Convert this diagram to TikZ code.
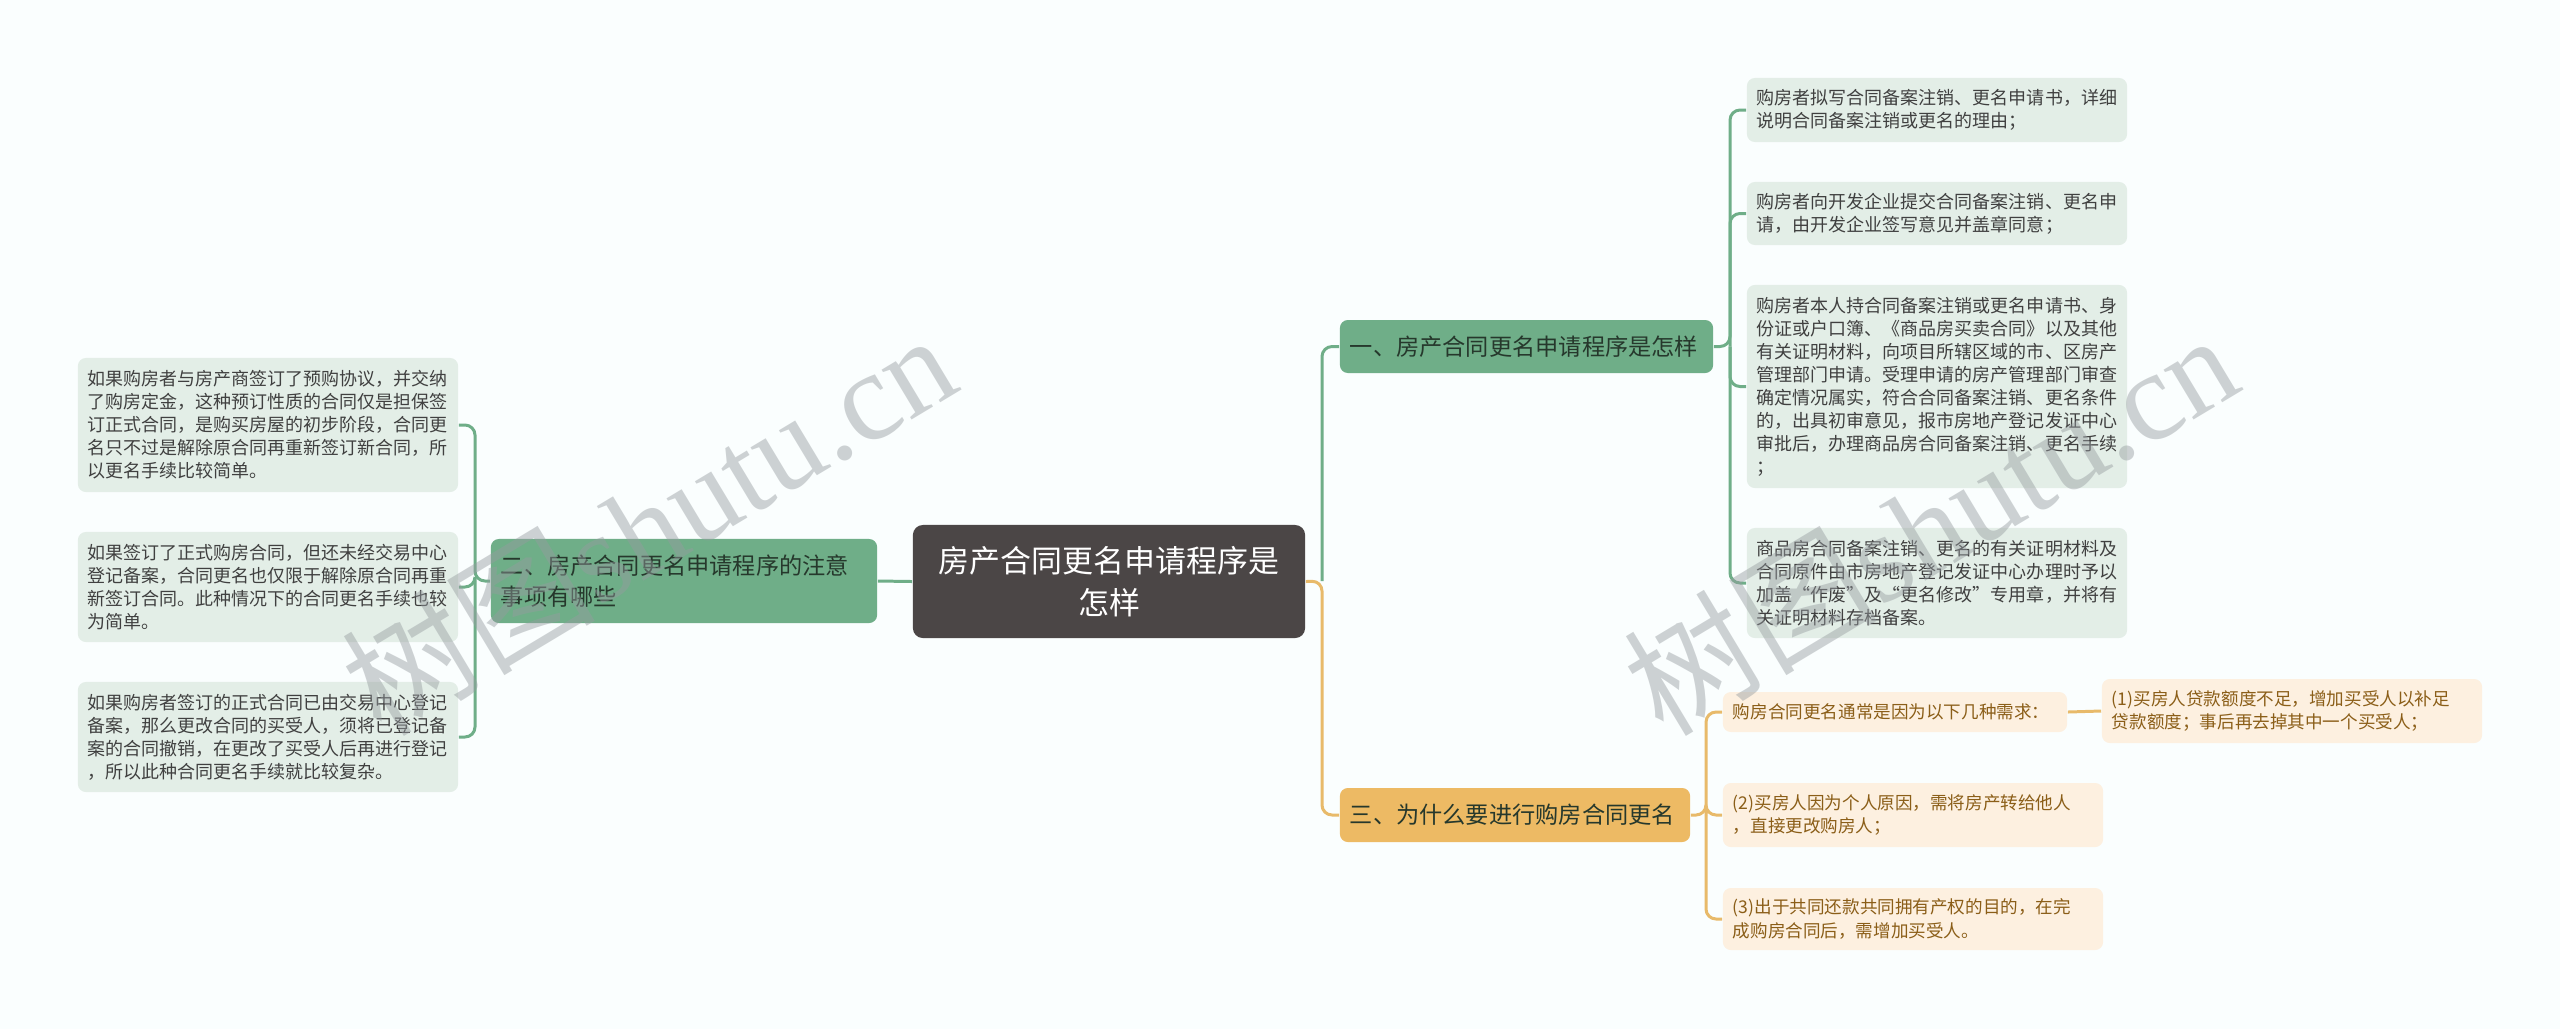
\documentclass[tikz,border=0pt]{standalone}
\usepackage{fontspec}
\setmainfont{Noto Sans CJK SC}
\newfontfamily\wmfont{Liberation Serif}
\usepackage{tikz}
\usetikzlibrary{calc}

\definecolor{bgcol}{RGB}{250,254,254}
\definecolor{darkbox}{RGB}{75,70,70}
\definecolor{gmid}{RGB}{111,174,136}
\definecolor{glight}{RGB}{227,238,231}
\definecolor{gtext}{RGB}{38,56,44}
\definecolor{omid}{RGB}{237,186,100}
\definecolor{olight}{RGB}{253,240,224}
\definecolor{otext}{RGB}{139,94,24}
\definecolor{oline}{RGB}{232,186,106}
\definecolor{wmgray}{RGB}{150,156,160}

\begin{document}
\begin{tikzpicture}[x=0.01cm, y=-0.01cm]

                % Box and connector looks, one unit is one pixel
                \tikzset{
                    box/.style={rounded corners=0.08cm, inner xsep=0.1cm, inner ysep=0pt, align=left},
                    centre/.style={box, fill=darkbox, text=white, align=center, text width=3.72cm,
                        minimum height=1.13cm, rounded corners=0.1cm, font=\fontsize{8.8}{11.9}\selectfont},
                    gbranch/.style={box, fill=gmid, text=gtext, font=\fontsize{6.6}{8.6}\selectfont},
                    obranch/.style={box, fill=omid, text=gtext, font=\fontsize{6.6}{8.6}\selectfont},
                    gleaf/.style={box, fill=glight, text=black!75, text width=3.6cm, font=\fontsize{5.12}{6.55}\selectfont},
                    oleaf/.style={box, fill=olight, text=otext, text width=3.6cm, font=\fontsize{5.0}{6.6}\selectfont},
                    gline/.style={draw=gmid, line width=0.85pt, rounded corners=0.1cm},
                    oline/.style={draw=oline, line width=0.85pt, rounded corners=0.1cm},
                    wmark/.style={text=wmgray, opacity=0.45, font=\fontsize{36}{40}\selectfont, rotate=31}
                }

                % Background and picture size
                \fill[bgcol] (0, 0) rectangle (2560, 1029);
                \useasboundingbox (0, 0) rectangle (2560, 1029);

                % Turning points of the connectors
                \begin{scope}
                    \coordinate (cr) at (1322, 581);
                    \coordinate (lb) at (475, 581);
                    \coordinate (gb) at (1730, 346.5);
                    \coordinate (ob) at (1706, 815);
                \end{scope}

                % Centre and the three branches
                \begin{scope}
                    \node (root) at (1109, 581.5) [centre] {房产合同更名申请程序是\\怎样};
                    \node (one) at (1526.5, 346.5) [gbranch, text width=3.53cm, minimum height=0.53cm] {一、房产合同更名申请程序是怎样};
                    \node (two) at (684, 581) [gbranch, text width=3.66cm, minimum height=0.84cm] {二、房产合同更名申请程序的注意\\事项有哪些};
                    \node (three) at (1515, 815) [obranch, text width=3.3cm, minimum height=0.54cm] {三、为什么要进行购房合同更名};
                \end{scope}

                % Leaves of the left branch
                \begin{scope}
                    \node (twoA) at (268, 425) [gleaf, minimum height=1.34cm] {如果购房者与房产商签订了预购协议，并交纳\\了购房定金，这种预订性质的合同仅是担保签\\订正式合同，是购买房屋的初步阶段，合同更\\名只不过是解除原合同再重新签订新合同，所\\以更名手续比较简单。};
                    \node (twoB) at (268, 587) [gleaf, minimum height=1.1cm] {如果签订了正式购房合同，但还未经交易中心\\登记备案，合同更名也仅限于解除原合同再重\\新签订合同。此种情况下的合同更名手续也较\\为简单。};
                    \node (twoC) at (268, 737) [gleaf, minimum height=1.1cm] {如果购房者签订的正式合同已由交易中心登记\\备案，那么更改合同的买受人，须将已登记备\\案的合同撤销，在更改了买受人后再进行登记\\，所以此种合同更名手续就比较复杂。};
                \end{scope}

                % Leaves of the first right branch
                \begin{scope}
                    \node (oneA) at (1937, 110) [gleaf, minimum height=0.64cm] {购房者拟写合同备案注销、更名申请书，详细\\说明合同备案注销或更名的理由；};
                    \node (oneB) at (1937, 213.5) [gleaf, minimum height=0.63cm] {购房者向开发企业提交合同备案注销、更名申\\请，由开发企业签写意见并盖章同意；};
                    \node (oneC) at (1937, 386.5) [gleaf, minimum height=2.03cm] {购房者本人持合同备案注销或更名申请书、身\\份证或户口簿、《商品房买卖合同》以及其他\\有关证明材料，向项目所辖区域的市、区房产\\管理部门申请。受理申请的房产管理部门审查\\确定情况属实，符合合同备案注销、更名条件\\的，出具初审意见，报市房地产登记发证中心\\审批后，办理商品房合同备案注销、更名手续\\；};
                    \node (oneD) at (1937, 583) [gleaf, minimum height=1.1cm] {商品房合同备案注销、更名的有关证明材料及\\合同原件由市房地产登记发证中心办理时予以\\加盖“作废”及“更名修改”专用章，并将有\\关证明材料存档备案。};
                \end{scope}

                % Leaves of the third branch
                \begin{scope}
                    \node (threeA) at (1895, 712) [oleaf, text width=3.24cm, minimum height=0.4cm] {购房合同更名通常是因为以下几种需求：};
                    \node (threeAa) at (2292, 711) [oleaf, minimum height=0.64cm] {(1)买房人贷款额度不足，增加买受人以补足\\贷款额度；事后再去掉其中一个买受人；};
                    \node (threeB) at (1913, 815) [oleaf, minimum height=0.64cm] {(2)买房人因为个人原因，需将房产转给他人\\，直接更改购房人；};
                    \node (threeC) at (1913, 919) [oleaf, minimum height=0.62cm] {(3)出于共同还款共同拥有产权的目的，在完\\成购房合同后，需增加买受人。};
                \end{scope}

                % Connectors
                \begin{scope}
                    \draw[gline] (root.west) -- (two.east);
                    \draw[gline] (two.west) -- (lb) |- (twoA.east);
                    \draw[gline] (lb) |- (twoB.east);
                    \draw[gline] (lb) |- (twoC.east);
                    \draw[gline] (cr) |- (one.west);
                    \draw[oline] (root.east) -- (cr) |- (three.west);
                    \draw[gline] (one.east) -- (gb) |- (oneA.west);
                    \draw[gline] (gb) |- (oneB.west);
                    \draw[gline] (gb) |- (oneC.west);
                    \draw[gline] (gb) |- (oneD.west);
                    \draw[oline] (three.east) -- (ob) |- (threeA.west);
                    \draw[oline] (ob) |- (threeB.west);
                    \draw[oline] (ob) |- (threeC.west);
                    \draw[oline] (threeA.east) -- (threeAa.west);
                \end{scope}

                % Watermarks
                \node (wmL) at (648, 522) [wmark] {树图\wmfont shutu.cn};
                \node (wmR) at (1930, 522) [wmark] {树图\wmfont shutu.cn};

\end{tikzpicture}
\end{document}
